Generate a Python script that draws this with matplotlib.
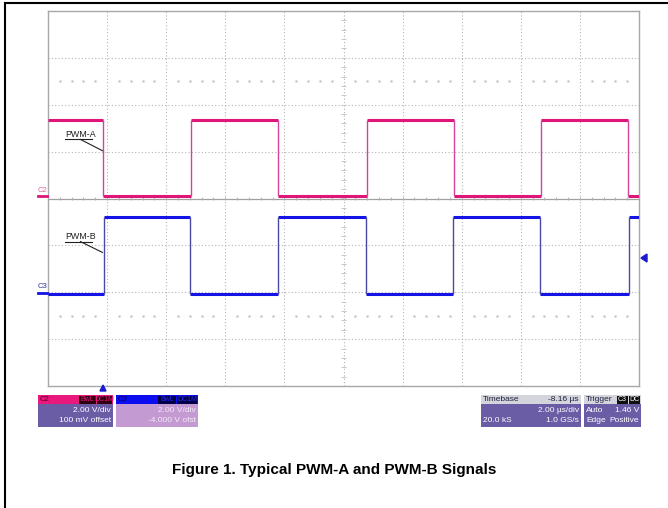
import matplotlib
matplotlib.use("Agg")
import matplotlib.pyplot as plt
from matplotlib.patches import Rectangle, Polygon
from matplotlib.lines import Line2D
import numpy as np

plt.rcParams['font.family'] = ['Liberation Sans', 'DejaVu Sans']

# scope screen: 10 div x 2 us/div, 8 vertical div
t_span = 20.0
# PWM-A (C2) edge times in us, levels in div
edges_a = [1.86, 4.84, 7.78, 10.80, 13.74, 16.68, 19.63]
a_hi, a_lo = 1.68, 0.06
# PWM-B (C3)
edges_b = [1.90, 4.81, 7.78, 10.76, 13.71, 16.65, 19.66]
b_hi, b_lo = -0.40, -2.03

W, H = 668, 508
def fx(px):
    return px / W
def fy(py):
    return 1 - py / H

fig = plt.figure(figsize=(6.68, 5.08), dpi=100)
ax = fig.add_axes([fx(48), fy(386), (639 - 48) / W, (386 - 11) / H])
ax.set_xlim(0, t_span)
ax.set_ylim(-4, 4)
ax.set_xticks([])
ax.set_yticks([])
for s in ax.spines.values():
    s.set_color('#a8a8a8')
    s.set_linewidth(1.0)

# graticule
for x in np.arange(2, 20, 2):
    ax.axvline(x, color='#b4b4b4', lw=0.8, ls=(0, (1, 2)), zorder=1)
for y in [-3, -2, -1, 1, 2, 3]:
    ax.axhline(y, color='#b4b4b4', lw=0.8, ls=(0, (1, 2)), zorder=1)
ax.axhline(0, color='#a0a0a0', lw=0.9, zorder=1)
tk = np.arange(0.4, 20, 0.4)
ax.vlines(tk, -0.04, 0.04, color='#b0b0b0', lw=0.7, zorder=1)
tky = np.arange(-3.8, 4, 0.2)
ax.hlines(tky, 10 - 0.07, 10 + 0.07, color='#c8c8c8', lw=0.7, zorder=1)
dots = [t for t in tk if abs(t / 2 - round(t / 2)) > 0.05]
ax.plot(dots, [2.5] * len(dots), ls='none', marker='s', ms=0.8, color='#cacaca', zorder=1)
ax.plot(dots, [-2.5] * len(dots), ls='none', marker='s', ms=0.8, color='#cacaca', zorder=1)


def trace(edges, first, second, col, edge_col):
    bounds = [0] + edges + [t_span]
    lev = [first if i % 2 == 0 else second for i in range(len(bounds) - 1)]
    ax.hlines(lev, bounds[:-1], bounds[1:], color=col, lw=2.2, zorder=3)
    ax.vlines(edges, min(first, second), max(first, second), color=edge_col, lw=1.0, zorder=3)


trace(edges_a, a_hi, a_lo, '#e0157a', '#d0449a')
trace(edges_b, b_lo, b_hi, '#1414e6', '#4a4aa6')

# labels with leaders
for lab, ty, uy, ly in [('PWM-A', 1.36, 1.26, 1.02), ('PWM-B', -0.81, -0.92, -1.15)]:
    ax.text(0.58, ty, lab, fontsize=6.4, color='#202020', va='center', ha='left', zorder=4)
    ax.plot([0.58, 1.49], [uy, uy], color='#202020', lw=0.8, zorder=4)
    ax.plot([1.10, 1.84], [uy, ly], color='#202020', lw=0.8, zorder=4)

# channel markers left
fig.text(fx(38), fy(190), 'C2', fontsize=5.5, color='#e0609a', va='center', ha='left')
fig.add_artist(Line2D([fx(38), fx(47)], [fy(196), fy(196)], color='#e0157a', lw=2))
fig.text(fx(38), fy(287), 'C3', fontsize=5.5, color='#3030a0', va='center', ha='left')
fig.add_artist(Line2D([fx(38), fx(47)], [fy(293), fy(293)], color='#1414e6', lw=2))

# trigger markers
fig.add_artist(Polygon([[fx(100), fy(391)], [fx(106), fy(391)], [fx(103), fy(385)]],
                       closed=True, color='#1a1ad0'))
fig.add_artist(Polygon([[fx(641), fy(258)], [fx(647), fy(254)], [fx(647), fy(262)]],
                       closed=True, color='#1a1ad0'))


def rect(x0, y0, x1, y1, col):
    fig.add_artist(Rectangle((fx(x0), fy(y1)), fx(x1) - fx(x0), fy(y0) - fy(y1),
                             facecolor=col, edgecolor='none'))


def txt(x, y, s, ha='left', col='white', size=6.0, weight='normal'):
    fig.text(fx(x), fy(y), s, fontsize=size, color=col, ha=ha, va='center', weight=weight)


body = '#6b5ca6'
# C2 box
rect(38, 395, 113, 427, body)
rect(38, 395, 113, 404, '#e8187c')
txt(40, 399.5, 'C2', col='#5a0020', size=5.6)
rect(79, 396, 96, 403.5, '#300010')
rect(97, 396, 112, 403.5, '#300010')
txt(87.5, 399.5, 'BwL', ha='center', col='#e8187c', size=5.0)
txt(104.5, 399.5, 'DC1M', ha='center', col='#e8187c', size=5.0)
txt(111, 410, '2.00 V/div', ha='right')
txt(111, 420, '100 mV offset', ha='right')

# C3 box
rect(116, 395, 198, 427, '#c49ad2')
rect(116, 395, 198, 404, '#0c0cf0')
txt(118, 399.5, 'C3', col='#000060', size=5.6)
rect(158, 396, 176, 403.5, '#00004a')
rect(177, 396, 197, 403.5, '#00004a')
txt(167, 399.5, 'BwL', ha='center', col='#2a2af0', size=5.0)
txt(187, 399.5, 'DC1M', ha='center', col='#2a2af0', size=5.0)
txt(196, 410, '2.00 V/div', ha='right', col='#f4eaf8')
txt(196, 420, '-4.000 V ofst', ha='right', col='#f4eaf8')

# timebase box
rect(481, 395, 581, 427, body)
rect(481, 395, 581, 404, '#d4d4dc')
txt(483, 399.5, 'Timebase', col='#202040')
txt(579, 399.5, '-8.16 \u00b5s', ha='right', col='#202040')
txt(579, 410, '2.00 \u00b5s/div', ha='right')
txt(483, 420, '20.0 kS')
txt(579, 420, '1.0 GS/s', ha='right')

# trigger box
rect(584, 395, 641, 427, body)
rect(584, 395, 641, 404, '#d4d4dc')
txt(586, 399.5, 'Trigger', col='#202040')
rect(617, 396, 628, 403.5, '#101010')
rect(629, 396, 640, 403.5, '#101010')
txt(622.5, 399.5, 'C3', ha='center', size=5.0)
txt(634.5, 399.5, 'DC', ha='center', size=5.0)
txt(586, 410, 'Auto')
txt(639, 410, '1.46 V', ha='right')
txt(586, 420, 'Edge')
txt(639, 420, 'Positive', ha='right')

# caption
fig.text(0.5, fy(470), 'Figure 1. Typical PWM-A and PWM-B Signals', fontsize=11,
         weight='bold', ha='center', va='center', color='black')

# page border (left and top only)
fig.add_artist(Line2D([fx(5), fx(5)], [fy(3), 0], color='black', lw=1.5))
fig.add_artist(Line2D([fx(5), 1], [fy(3), fy(3)], color='black', lw=1.5))

fig.savefig('out.png', dpi=100)
